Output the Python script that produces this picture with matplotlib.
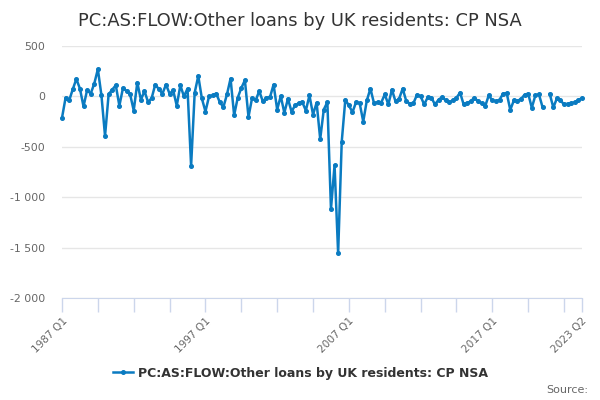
import matplotlib
matplotlib.use('Agg')
import matplotlib.pyplot as plt
import numpy as np

# quarterly values, 1987 Q1 .. 2023 Q2 (one missing point in 2020)
start_year = 1987
vals_1987_1996 = [-213, -13, -40, 70, 173, 77, -100, 63, 27, 127,
                  270, 10, -393, 20, 67, 110, -93, 83, 53, 20,
                  -140, 137, -33, 53, -57, -17, 117, 73, 27, 117,
                  27, 60, -93, 110, 0, 77, -690, 37, 203, -20]
vals_1997_2006 = [-150, 0, 10, 27, -57, -107, 20, 177, -187, -13,
                  83, 160, -203, -17, -40, 53, -50, -13, -7, 117,
                  -130, 3, -163, -23, -150, -90, -67, -57, -140, 10,
                  -180, -63, -423, -130, -57, -1117, -683, -1557, -450, -33]
vals_2007_2016 = [-90, -157, -57, -67, -250, -40, 77, -67, -57, -63,
                  20, -80, 67, -50, -23, 77, -47, -73, -67, 17,
                  0, -80, -7, -13, -80, -33, -7, -40, -57, -40,
                  -13, 37, -80, -67, -47, -13, -50, -67, -97, 10]
vals_2017_2023 = [-40, -47, -33, 27, 33, -133, -40, -45, -25, 17,
                  27, -113, 10, 20, -107, np.nan, 25, -110, -20, -40,
                  -80, -73, -65, -60, -35, -17]

values = vals_1987_1996 + vals_1997_2006 + vals_2007_2016 + vals_2017_2023
quarters = []
for k in range(len(values)):
    quarters.append('%d Q%d' % (start_year + k // 4, k % 4 + 1))

series_name = 'PC:AS:FLOW:Other loans by UK residents: CP NSA'
labelled = ['1987 Q1', '1997 Q1', '2007 Q1', '2017 Q1', '2023 Q2']

fig = plt.figure(figsize=(6, 4), dpi=100)
ax = fig.add_axes([62/600, 1 - 298/400, 520/600, 252/400])

x = np.arange(len(values))
ax.plot(x, values, color='#0a7bc1', lw=1.8, marker='o', ms=2.6,
        label=series_name, clip_on=False)

ax.set_xlim(0, len(values) - 1)
ax.set_ylim(-2000, 500)
yt = [500, 0, -500, -1000, -1500, -2000]
ax.set_yticks(yt)
ax.set_yticklabels(['{:,}'.format(v).replace(',', ' ') for v in yt],
                   fontsize=7.8, color='#666666')
ax.tick_params(axis='y', length=0, pad=12)
ax.grid(axis='y', color='#e6e6e6', lw=1)
ax.set_axisbelow(True)

xt = list(range(0, len(values), 10)) + [len(values) - 1]
ax.set_xticks(xt)
ax.set_xticklabels([quarters[i] if quarters[i] in labelled else '' for i in xt],
                   rotation=45, ha='right', rotation_mode='anchor',
                   fontsize=7.6, color='#666666')
ax.tick_params(axis='x', length=10, color='#ccd6eb', width=1, pad=3)

for s in ['top', 'right', 'left']:
    ax.spines[s].set_visible(False)
ax.spines['bottom'].set_color('#ccd6eb')

fig.text(0.5, 0.948, series_name, ha='center', va='center',
         fontsize=12.9, color='#333333')

leg = ax.legend(loc='center', bbox_to_anchor=(300/600, 1 - 373/400),
                bbox_transform=fig.transFigure, frameon=False,
                prop={'weight': 'bold', 'size': 9}, handlelength=1.6,
                handletextpad=0.4)
for t in leg.get_texts():
    t.set_color('#333333')

fig.text(588/600, 1 - 390/400, 'Source:', ha='right', va='center',
         fontsize=8, color='#666666')

fig.savefig('out.png', dpi=100)
